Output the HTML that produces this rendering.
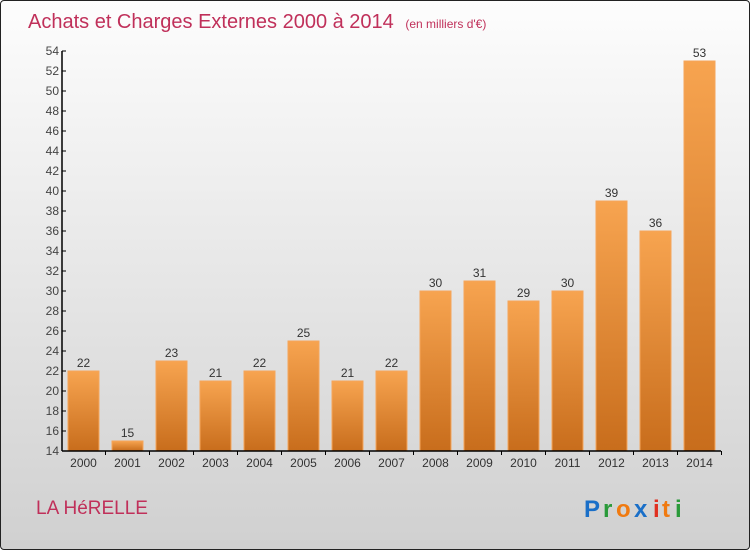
<!DOCTYPE html>
<html><head><meta charset="utf-8"><style>
body{margin:0;width:750px;height:550px;overflow:hidden}
#f{position:absolute;left:0;top:0;width:748px;height:548px;border:1px solid #222;border-radius:4px;background:linear-gradient(#fdfdfd,#d0d0d0);font-family:"Liberation Sans",sans-serif}
</style></head><body>
<div id="f">
<svg width="750" height="550">
<defs><linearGradient id="g" x1="0" y1="0" x2="0" y2="1"><stop offset="0" stop-color="#f7a450"/><stop offset="1" stop-color="#c86d1c"/></linearGradient></defs>
<text x="27" y="27" font-size="20" fill="#c0305a">Achats et Charges Externes 2000 à 2014 <tspan font-size="12" dx="6">(en milliers d'€)</tspan></text>
<g id="plot"></g>
<text x="35" y="513" font-size="19" fill="#c0305a">LA HéRELLE</text>
<g font-size="24" font-weight="bold">
<text x="583" y="516" fill="#1a6fc8">P</text><text x="602" y="516" fill="#2a9a3a">r</text><text x="615" y="516" fill="#f07a10">o</text><text x="633" y="516" fill="#1a6fc8">x</text><text x="652" y="516" fill="#e03020">i</text><text x="661" y="516" fill="#f07a10">t</text><text x="674" y="516" fill="#2a9a3a">i</text></g>
</svg></div>
<script>
const years=["2000","2001","2002","2003","2004","2005","2006","2007","2008","2009","2010","2011","2012","2013","2014"];
const values=[22,15,23,21,22,25,21,22,30,31,29,30,39,36,53];
const yTicks=[14,16,18,20,22,24,26,28,30,32,34,36,38,40,42,44,46,48,50,52,54];
const ns="http://www.w3.org/2000/svg",p=document.getElementById('plot');
const y=v=>450-(v-14)*10, x=i=>82.5+i*44;
function mk(t,a,txt){const e=document.createElementNS(ns,t);for(const k in a)e.setAttribute(k,a[k]);if(txt!=null)e.textContent=txt;p.appendChild(e);return e;}
values.forEach((v,i)=>{
 const r=mk('rect',{x:x(i)-15.5,y:y(v),width:31,height:450-y(v),fill:'url(#g)',stroke:'#f5a55a','stroke-width':1});
 
 
 const l=mk('text',{x:x(i),y:y(v)-4,'text-anchor':'middle','font-size':12,fill:'#333'},v);
 
 
 const t=mk('text',{x:x(i),y:466,'text-anchor':'middle','font-size':12,fill:'#333'},years[i]);
 
 
 mk('line',{x1:x(i)+22,x2:x(i)+22,y1:450,y2:454,stroke:'#000'});
});
mk('line',{x1:61,x2:61,y1:50,y2:450,stroke:'#000','stroke-width':1.5});
mk('line',{x1:61,x2:720,y1:450,y2:450,stroke:'#000','stroke-width':1.5});
yTicks.forEach(v=>{
 mk('line',{x1:61,x2:65,y1:y(v),y2:y(v),stroke:'#000'});
 const t=mk('text',{x:58,y:y(v)+4,'text-anchor':'end','font-size':12,fill:'#444'},v);
 
 
});
</script>
</body></html>
